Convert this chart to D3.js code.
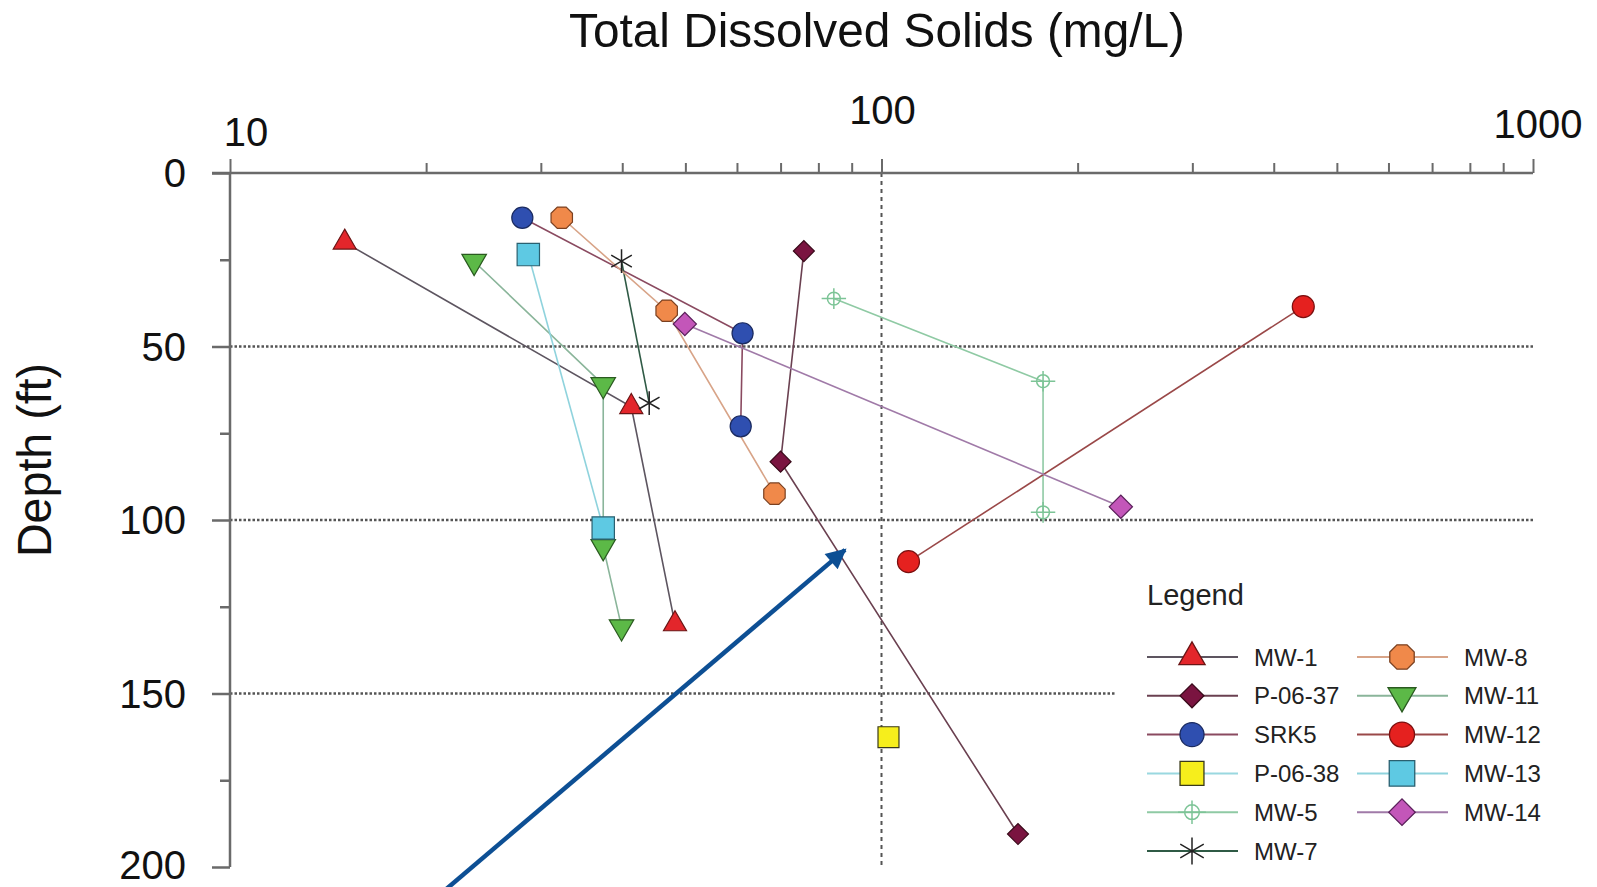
<!DOCTYPE html>
<html>
<head>
<meta charset="utf-8">
<script src="https://cdn.jsdelivr.net/npm/d3@7"></script>
<style>
  body { margin: 0; background: #fff; }
  svg { display: block; font-family: "Liberation Sans", Arial, sans-serif; }
</style>
</head>
<body>
<div id="chart_div"></div>
<script>
// well names, in legend order
var wellNames = ['MW-1', 'P-06-37', 'SRK5', 'P-06-38', 'MW-5', 'MW-7',
                 'MW-8', 'MW-11', 'MW-12', 'MW-13', 'MW-14'];

// [TDS mg/L, depth ft]
var MW1    = [[15, 20], [41.3, 67.4], [48.2, 130]];
var P0637  = [[76, 22.5], [70, 83.2], [162, 190.5]];
var SRK5   = [[28.1, 12.9], [61.2, 46.2], [60.8, 73]];
var P0638  = [[102.5, 162.6]];
var MW5    = [[84.5, 36.2], [177, 60], [177, 97.8]];
var MW7    = [[39.9, 25.4], [44, 66.3]];
var MW8    = [[32.3, 12.9], [46.8, 39.7], [68.5, 92.4]];
var MW11   = [[23.7, 25.5], [37.4, 61], [37.4, 107.7], [39.9, 130.8]];
var MW12   = [[444, 38.5], [110, 112]];
var MW13   = [[28.7, 23.5], [37.4, 102.3]];
var MW14   = [[49.9, 43.5], [233, 96.2]];

var seriesData = [MW1, P0637, SRK5, P0638, MW5, MW7, MW8, MW11, MW12, MW13, MW14];

var xTicksMajor = [10, 100, 1000];
var yTicks = [0, 50, 100, 150, 200];
var yGrid = [50, 100, 150];

// annotation arrow, in data units [TDS, depth]
var arrowFrom = [19.8, 212];
var arrowTo   = [87.9, 108.6];

// ---- custom symbols
var symbolOctagon = {
  draw: function (ctx, size) {
    var r = Math.sqrt(size / (2 * Math.SQRT2));
    for (var i = 0; i < 8; i++) {
      var a = (i + 0.5) * Math.PI / 4;
      if (i === 0) ctx.moveTo(r * Math.cos(a), r * Math.sin(a));
      else ctx.lineTo(r * Math.cos(a), r * Math.sin(a));
    }
    ctx.closePath();
  }
};
var symbolCrosshair = {
  draw: function (ctx, size) {
    var r = Math.sqrt(size / Math.PI);
    ctx.moveTo(r, 0);
    ctx.arc(0, 0, r, 0, 2 * Math.PI);
    ctx.moveTo(-r * 1.9, 0); ctx.lineTo(r * 1.9, 0);
    ctx.moveTo(0, -r * 1.6); ctx.lineTo(0, r * 1.6);
  }
};

// styling per well
var styles = [
  {type: d3.symbolTriangle, size: 230, rot: 0,   fill: '#e3262b', stroke: '#6a1515', line: '#5d5560'},
  {type: d3.symbolSquare,   size: 220, rot: 45,  fill: '#7a1440', stroke: '#3a0a1a', line: '#6a4050'},
  {type: d3.symbolCircle,   size: 350, rot: 0,   fill: '#2f4fb0', stroke: '#1a2a60', line: '#8a4a60'},
  {type: d3.symbolSquare,   size: 440, rot: 0,   fill: '#f6ee1c', stroke: '#3a3a1a', line: '#9ad8e0'},
  {type: symbolCrosshair,   size: 130, rot: 0,   fill: 'none',    stroke: '#7cc496', line: '#8fcaa4'},
  {type: d3.symbolAsterisk, size: 400, rot: 0,   fill: 'none',    stroke: '#222',    line: '#2f5a45'},
  {type: symbolOctagon,     size: 380, rot: 0,   fill: '#f0894a', stroke: '#7a4020', line: '#d8a488'},
  {type: d3.symbolTriangle, size: 260, rot: 180, fill: '#5cb947', stroke: '#2a5a20', line: '#8ab59a'},
  {type: d3.symbolCircle,   size: 380, rot: 0,   fill: '#e5211f', stroke: '#7a1010', line: '#9a4848'},
  {type: d3.symbolSquare,   size: 500, rot: 0,   fill: '#5ec9e3', stroke: '#2a6070', line: '#8fd3dd'},
  {type: d3.symbolSquare,   size: 270, rot: 45,  fill: '#c356b9', stroke: '#5a205a', line: '#a07aa8'}
];

function makeChart() {
  var W = 1597, H = 887;
  var svg = d3.select('#chart_div').append('svg')
      .attr('width', W).attr('height', H);

  var xScale = d3.scaleLog().domain([10, 1000]).range([230, 1533]);
  var yScale = d3.scaleLinear().domain([0, 200]).range([173, 867]);

  var axisColor = '#6a6a6a';
  var gridColor = '#555';

  // title
  svg.append('text')
    .attr('x', 569).attr('y', 47)
    .attr('textLength', 616).attr('lengthAdjust', 'spacingAndGlyphs')
    .style('font-size', '49px').attr('fill', '#111')
    .text('Total Dissolved Solids (mg/L)');

  // y label
  svg.append('text')
    .attr('transform', 'translate(51,460) rotate(-90)')
    .attr('text-anchor', 'middle')
    .attr('textLength', 194).attr('lengthAdjust', 'spacingAndGlyphs')
    .style('font-size', '48px').attr('fill', '#111')
    .text('Depth (ft)');

  // grid
  svg.append('g').selectAll('line')
    .data(yGrid).enter().append('line')
    .attr('x1', xScale(10)).attr('x2', xScale(1000))
    .attr('y1', function (d) { return yScale(d); })
    .attr('y2', function (d) { return yScale(d); })
    .attr('stroke', gridColor).attr('stroke-width', 2.5)
    .attr('stroke-dasharray', '2.5,2');

  svg.append('line')
    .attr('x1', xScale(100)).attr('x2', xScale(100))
    .attr('y1', yScale(0)).attr('y2', yScale(200))
    .attr('stroke', gridColor).attr('stroke-width', 2)
    .attr('stroke-dasharray', '4,4');

  // x axis on top, ticks pointing up
  var xAxis = d3.axisTop(xScale)
      .tickValues(d3.range(1, 10).map(function (i) { return i * 10; })
                  .concat(d3.range(1, 10).map(function (i) { return i * 100; }))
                  .concat([1000]))
      .tickSize(10).tickFormat('');
  var gx = svg.append('g')
    .attr('transform', 'translate(0,' + yScale(0) + ')')
    .call(xAxis);
  gx.select('.domain').attr('d', 'M212,0H' + xScale(1000))
    .attr('stroke', axisColor).attr('stroke-width', 2.5);
  gx.selectAll('.tick line').attr('stroke', axisColor).attr('stroke-width', 2)
    .attr('y2', function (d) { return xTicksMajor.indexOf(d) >= 0 ? -14 : -10; });

  // x tick labels (staggered as in the original)
  var xLabelPos = {10: [16, -27], 100: [1, -49], 1000: [5, -35]};
  svg.append('g').selectAll('text')
    .data(xTicksMajor).enter().append('text')
    .attr('x', function (d) { return xScale(d) + xLabelPos[d][0]; })
    .attr('y', function (d) { return yScale(0) + xLabelPos[d][1]; })
    .attr('text-anchor', 'middle')
    .style('font-size', '40px').attr('fill', '#111')
    .text(function (d) { return d; });

  // y axis, ticks pointing left
  var yAxis = d3.axisLeft(yScale)
      .tickValues(d3.range(0, 201, 25))
      .tickSize(18).tickFormat('');
  var gy = svg.append('g')
    .attr('transform', 'translate(' + xScale(10) + ',0)')
    .call(yAxis);
  gy.select('.domain').attr('d', 'M0,' + yScale(0) + 'V' + yScale(200))
    .attr('stroke', axisColor).attr('stroke-width', 2.5);
  gy.selectAll('.tick line').attr('stroke', axisColor).attr('stroke-width', 2.5)
    .attr('x2', function (d) { return d % 50 === 0 ? -18 : -10; });

  // bottom label sits at the page edge, nudge it up a little to keep it whole
  svg.append('g').selectAll('text')
    .data(yTicks).enter().append('text')
    .attr('x', 186)
    .attr('y', function (d) { return Math.min(yScale(d), H - 22); })
    .attr('dy', '0.36em')
    .attr('text-anchor', 'end')
    .style('font-size', '40px').attr('fill', '#111')
    .text(function (d) { return d; });

  // lines
  var valueLine = d3.line()
      .x(function (d) { return xScale(d[0]); })
      .y(function (d) { return yScale(d[1]); });

  for (var i = 0; i < seriesData.length; i++) {
    if (seriesData[i].length < 2) continue;
    svg.append('path')
      .data([seriesData[i]])
      .attr('class', 'line-' + i)
      .attr('fill', 'none')
      .attr('stroke', styles[i].line)
      .attr('stroke-width', 1.6)
      .attr('d', valueLine);
  }

  // markers
  for (var i = 0; i < seriesData.length; i++) {
    var st = styles[i];
    svg.append('g').selectAll('path')
      .data(seriesData[i]).enter().append('path')
      .attr('transform', function (d) {
        return 'translate(' + xScale(d[0]) + ',' + yScale(d[1]) + ') rotate(' + st.rot + ')';
      })
      .attr('d', d3.symbol().type(st.type).size(st.size))
      .attr('fill', st.fill)
      .attr('stroke', st.stroke)
      .attr('stroke-width', st.fill === 'none' ? 1.5 : 1.2);
  }

  // legend
  var lg = svg.append('g');
  lg.append('rect')
    .attr('x', 1115).attr('y', 565).attr('width', 430).attr('height', 315)
    .attr('fill', '#fff');
  lg.append('text')
    .attr('x', 1147).attr('y', 605)
    .style('font-size', '29px').attr('fill', '#222')
    .text('Legend');

  var colX = [1147, 1357];
  wellNames.forEach(function (name, i) {
    var col = i < 6 ? 0 : 1;
    var row = i < 6 ? i : i - 6;
    var x0 = colX[col];
    var y0 = 657 + row * 38.8;
    var st = styles[i];
    var item = lg.append('g').attr('transform', 'translate(' + x0 + ',' + y0 + ')');
    item.append('line')
      .attr('x1', 0).attr('x2', 91).attr('y1', 0).attr('y2', 0)
      .attr('stroke', st.line).attr('stroke-width', 2);
    item.append('path')
      .attr('transform', 'translate(45,0) rotate(' + st.rot + ')')
      .attr('d', d3.symbol().type(st.type).size(st.size * 1.3))
      .attr('fill', st.fill)
      .attr('stroke', st.stroke)
      .attr('stroke-width', st.fill === 'none' ? 1.5 : 1.3);
    item.append('text')
      .attr('x', 107).attr('y', 0).attr('dy', '0.36em')
      .style('font-size', '24px').attr('fill', '#222')
      .text(name);
  });

  // annotation arrow
  var defs = svg.append('defs');
  defs.append('marker')
    .attr('id', 'arrowhead')
    .attr('viewBox', '0 0 10 10')
    .attr('refX', 9).attr('refY', 5)
    .attr('markerWidth', 5).attr('markerHeight', 4.5)
    .attr('orient', 'auto')
    .append('path')
    .attr('d', 'M0,0L10,5L0,10Z')
    .attr('fill', '#0d4f94');

  svg.append('line')
    .attr('x1', xScale(arrowFrom[0])).attr('y1', yScale(arrowFrom[1]))
    .attr('x2', xScale(arrowTo[0])).attr('y2', yScale(arrowTo[1]))
    .attr('stroke', '#0d4f94').attr('stroke-width', 4.5)
    .attr('marker-end', 'url(#arrowhead)');
}

makeChart();
</script>
</body>
</html>
